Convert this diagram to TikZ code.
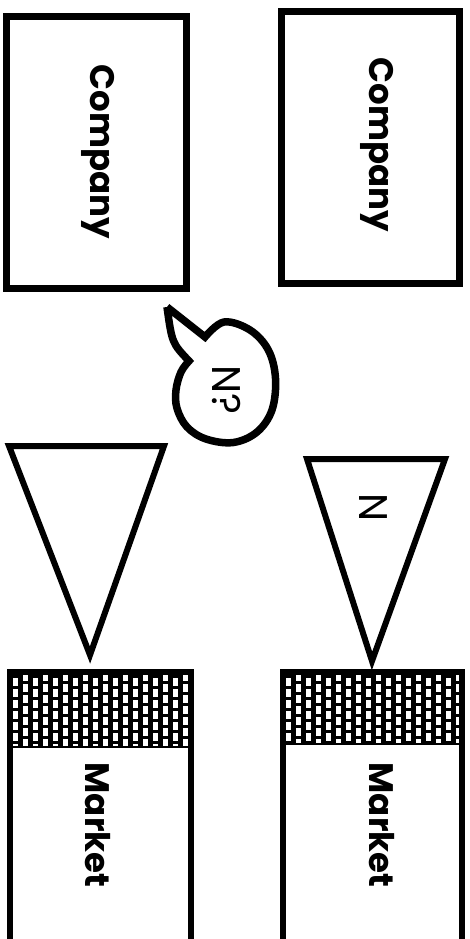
\documentclass[tikz,border=0pt]{standalone}
\usepackage{fontspec}
\setmainfont{Poppins}
\begin{document}
\begin{tikzpicture}[x=1pt,y=-1pt,
  cobox/.style={draw=black, line width=6.5pt, fill=white, minimum width=#1, minimum height=272pt, inner sep=0pt},
  tri/.style={draw=black, line width=6pt, line join=miter},
  mkline/.style={draw=black, line width=6pt, line join=miter},
  bigtxt/.style={font=\bfseries\fontsize{34}{34}\selectfont, rotate=-90, inner sep=0pt},
  smalltxt/.style={font=\fontsize{40}{40}\selectfont, rotate=-90, inner sep=0pt},
  bubble/.style={draw=black, line width=7.5pt, line join=miter}]
\useasboundingbox (0,0) rectangle (470,939);
\fill[white] (0,0) rectangle (470,939);

% Company boxes
\node[cobox=180pt] (c1) at (96.5,152.5) {};
\node[cobox=178pt] (c2) at (370.5,147.5) {};
\node[bigtxt] (c1t) at (98,152) {Company};
\node[bigtxt] (c2t) at (377,145) {Company};

% speech bubble
\coordinate (tip) at (167,307);
\draw[bubble] (tip) -- plot[smooth, tension=0.6] coordinates {
  (205,337) (224,322) (250,330) (268.3,350) (275.5,378.3)
  (272,410) (257,432) (233.3,442.5) (206,439) (187,427)
  (177,408.3) (176,390) (181,372) (189,361)}
  .. controls (172,343) .. (tip);
\node[smalltxt] (nq) at (226,390) {N?};

% triangles
\coordinate (t1a) at (9,446);
\coordinate (t1b) at (164,446);
\coordinate (t1c) at (90,655);
\draw[tri] (t1a) -- (t1b) -- (t1c) -- cycle;
\coordinate (t2a) at (307,459);
\coordinate (t2b) at (445,459);
\coordinate (t2c) at (372,661);
\draw[tri] (t2a) -- (t2b) -- (t2c) -- cycle;
\node[smalltxt] (nn) at (373,508) {N};

% markets: hatched tops
\fill[black] (7,669) rectangle (194,748);
\begin{scope}
  \clip (13,675) rectangle (188,745.5);
  \foreach \i in {0,...,18} {
    \foreach \j in {0,...,8} {
      \fill[white] ({12.5+10*\i},{667+11*\j+5.5*mod(\i,2)}) rectangle +(5.5,8);
    }
  }
\end{scope}
\fill[black] (280,669) rectangle (465,745);
\begin{scope}
  \clip (286,675) rectangle (459,742.5);
  \foreach \i in {0,...,18} {
    \foreach \j in {0,...,8} {
      \fill[white] ({285.5+10*\i},{667+11*\j+5.5*mod(\i,2)}) rectangle +(5.5,8);
    }
  }
\end{scope}
\coordinate (m1a) at (10,950);
\coordinate (m1b) at (10,672);
\coordinate (m1c) at (191,672);
\coordinate (m1d) at (191,950);
\draw[mkline] (m1a) -- (m1b) -- (m1c) -- (m1d);
\coordinate (m2a) at (283,950);
\coordinate (m2b) at (283,672);
\coordinate (m2c) at (462,672);
\coordinate (m2d) at (462,950);
\draw[mkline] (m2a) -- (m2b) -- (m2c) -- (m2d);
\node[bigtxt] (m1t) at (98,825) {Market};
\node[bigtxt] (m2t) at (382,825) {Market};
\end{tikzpicture}
\end{document}
